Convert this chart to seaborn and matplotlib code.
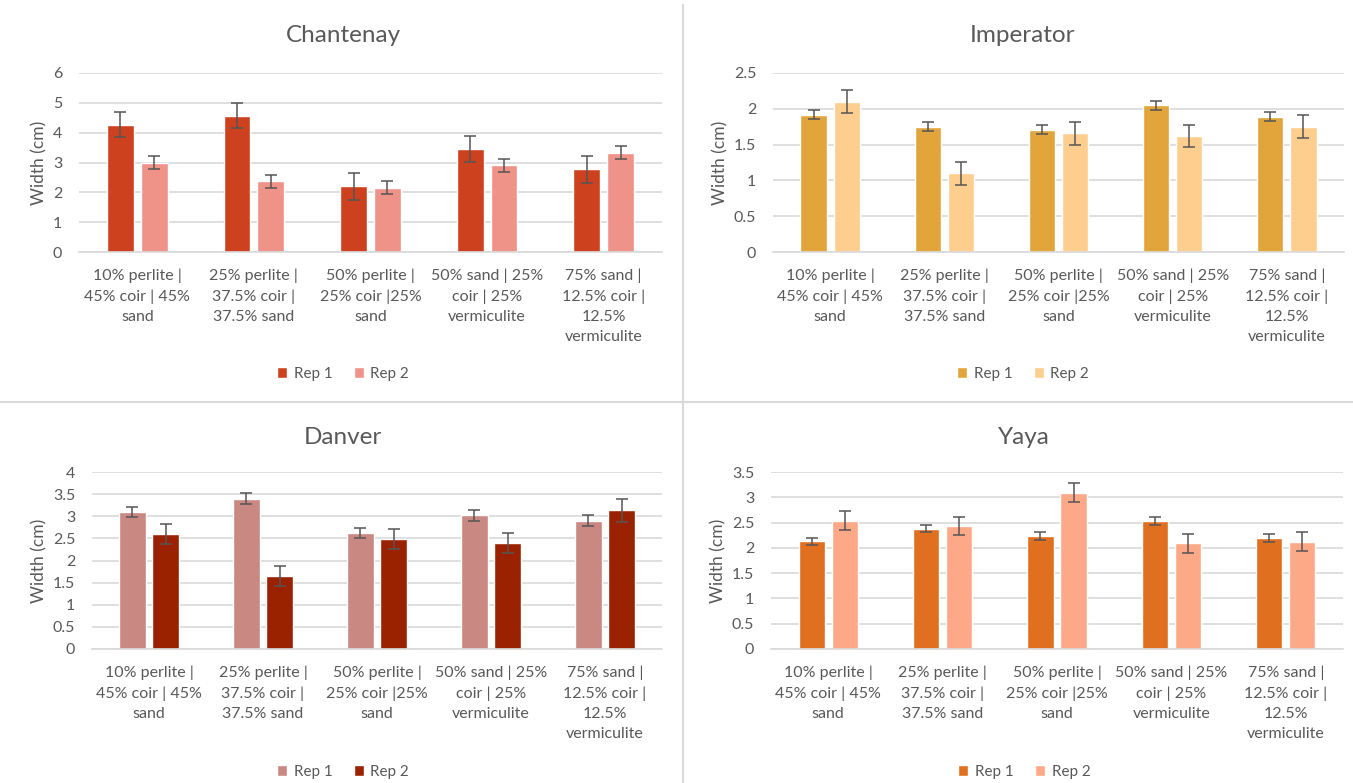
import pandas as pd
import numpy as np
import matplotlib
matplotlib.use('Agg')
import matplotlib.pyplot as plt
from matplotlib.lines import Line2D
from matplotlib.patches import Patch
import seaborn as sns

mixes = ['10% perlite |\n45% coir | 45%\nsand',
         '25% perlite |\n37.5% coir |\n37.5% sand',
         '50% perlite |\n25% coir |25%\nsand',
         '50% sand | 25%\ncoir | 25%\nvermiculite',
         '75% sand |\n12.5% coir |\n12.5%\nvermiculite']
reps = ['Rep 1', 'Rep 2']

chantenay_rep1 = [4.27, 4.57, 2.20, 3.45, 2.77]
chantenay_rep2 = [3.00, 2.37, 2.15, 2.90, 3.33]
chantenay_err1 = [0.43, 0.42, 0.45, 0.43, 0.45]
chantenay_err2 = [0.22, 0.22, 0.22, 0.22, 0.22]

imperator_rep1 = [1.92, 1.75, 1.71, 2.05, 1.89]
imperator_rep2 = [2.10, 1.10, 1.66, 1.62, 1.75]
imperator_err1 = [0.06, 0.06, 0.06, 0.06, 0.06]
imperator_err2 = [0.16, 0.16, 0.16, 0.16, 0.16]

danver_rep1 = [3.10, 3.40, 2.62, 3.02, 2.90]
danver_rep2 = [2.60, 1.65, 2.48, 2.40, 3.13]
danver_err1 = [0.12, 0.12, 0.12, 0.12, 0.12]
danver_err2 = [0.23, 0.23, 0.23, 0.23, 0.25]

yaya_rep1 = [2.13, 2.38, 2.24, 2.54, 2.19]
yaya_rep2 = [2.54, 2.43, 3.09, 2.09, 2.12]
yaya_err1 = [0.07, 0.07, 0.08, 0.08, 0.08]
yaya_err2 = [0.19, 0.18, 0.19, 0.19, 0.19]

FONT = ['Lato', 'DejaVu Sans']
TXT = '#595959'
GRID = '#d9d9d9'
W, H = 1353, 783


def px_rect(x0, x1, ytop, ybot):
    # pixel box -> figure fraction rect
    return [x0 / W, 1 - ybot / H, (x1 - x0) / W, (ybot - ytop) / H]


def bar_panel(fig, rect, title, title_xy, r1, r2, e1, e2, colors, ymax, ystep, legend_y):
    '''
    Args: fig, list, str, tuple, lists..., list, float, float, float
    Draws one grouped bar chart with error bars.
    '''
    ax = fig.add_axes(rect)
    df = pd.DataFrame({'mix': mixes * 2,
                       'rep': [reps[0]] * 5 + [reps[1]] * 5,
                       'width': r1 + r2})
    sns.barplot(data=df, x='mix', y='width', hue='rep', palette=colors,
                width=0.58, gap=0.21, errorbar=None, ax=ax, legend=False,
                saturation=1)
    errs = e1 + e2
    vals = r1 + r2
    for patch, v, e in zip(ax.patches[:10], vals, errs):
        cx = patch.get_x() + patch.get_width() / 2
        ax.errorbar(cx, v, yerr=e, fmt='none', ecolor='#555555',
                    elinewidth=1.1, capsize=4, capthick=1.1, zorder=4)
    ticks = np.arange(0, ymax + 0.001, ystep)
    ax.set_ylim(0, ymax)
    ax.set_yticks(ticks)
    ax.set_yticklabels([f'{t:g}' for t in ticks])
    ax.set_xlim(-0.5, 4.5)
    ax.grid(axis='y', color=GRID, linewidth=1.2)
    ax.set_axisbelow(True)
    for s in ['top', 'right', 'left']:
        ax.spines[s].set_visible(False)
    ax.spines['bottom'].set_color(GRID)
    ax.spines['bottom'].set_linewidth(1.2)
    ax.tick_params(axis='both', length=0, colors=TXT, labelsize=11.5)
    ax.tick_params(axis='y', pad=12)
    ax.tick_params(axis='x', pad=12)
    for lab in ax.get_xticklabels():
        lab.set_linespacing(1.55)
        lab.set_family(FONT)
    for lab in ax.get_yticklabels():
        lab.set_family(FONT)
    ax.set_xlabel('')
    ax.set_ylabel('Width (cm)', color=TXT, fontsize=12.5, family=FONT, labelpad=4)
    fig.text(title_xy[0] / W, 1 - title_xy[1] / H, title, ha='center', va='center',
             fontsize=17.5, color=TXT, family=FONT)
    handles = [Patch(facecolor=colors[0]), Patch(facecolor=colors[1])]
    fig.legend(handles, reps, loc='center', bbox_to_anchor=(title_xy[0] / W, 1 - legend_y / H),
               ncol=2, frameon=False, handlelength=0.7, handleheight=0.7,
               columnspacing=1.4, handletextpad=0.4,
               prop={'family': FONT, 'size': 11}, labelcolor=TXT)
    return ax


fig = plt.figure(figsize=(W / 100, H / 100), dpi=100)
sns.set_style('white')

bar_panel(fig, px_rect(79, 662, 73, 252), 'Chantenay', (343, 35),
          chantenay_rep1, chantenay_rep2, chantenay_err1, chantenay_err2,
          ['#CE411E', '#EF9287'], 6, 1, 374)
bar_panel(fig, px_rect(773, 1344, 73, 252), 'Imperator', (1023, 35),
          imperator_rep1, imperator_rep2, imperator_err1, imperator_err2,
          ['#E1A53B', '#FECE8E'], 2.5, 0.5, 374)
bar_panel(fig, px_rect(92, 662, 472, 649), 'Danver', (343, 437),
          danver_rep1, danver_rep2, danver_err1, danver_err2,
          ['#C98882', '#9A2200'], 4, 0.5, 772)
bar_panel(fig, px_rect(771, 1343, 472, 649), 'Yaya', (1024, 437),
          yaya_rep1, yaya_rep2, yaya_err1, yaya_err2,
          ['#E07020', '#FDA987'], 3.5, 0.5, 772)

# panel separators
fig.add_artist(Line2D([683 / W, 683 / W], [0, 1 - 5 / H], color=GRID, linewidth=1.5))
fig.add_artist(Line2D([0, 1], [1 - 402 / H, 1 - 402 / H], color=GRID, linewidth=1.5))

plt.savefig('out.png', dpi=100)
